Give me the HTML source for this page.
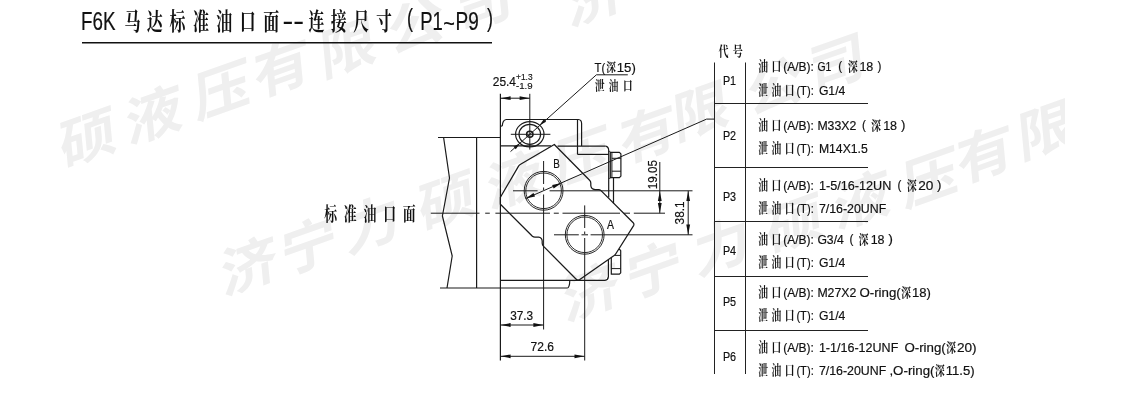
<!DOCTYPE html>
<html lang="zh-CN"><head><meta charset="utf-8"><title>F6K 马达标准油口面--连接尺寸 ( P1~P9 )</title>
<style>
html,body{margin:0;padding:0;background:#fff;}
body{width:1121px;height:414px;overflow:hidden;font-family:"Liberation Sans","Noto Sans CJK SC",sans-serif;}
svg{display:block;will-change:transform;transform:translateZ(0);}
text{white-space:pre;}
</style></head><body>
<svg width="1121" height="414" viewBox="0 0 1121 414">
<clipPath id="cw"><rect x="56" y="0" width="1009" height="414"/></clipPath><g id="wm" clip-path="url(#cw)">
<text transform="translate(88,138) rotate(-19.5) skewX(-14) scale(1.12,1)" x="0" y="19.1" text-anchor="middle" font-family='"Liberation Sans", "Noto Sans CJK SC", sans-serif' font-size="53" font-weight="700" fill="#efefef">硕</text>
<text transform="translate(154,115) rotate(-19.5) skewX(-14) scale(1.12,1)" x="0" y="19.1" text-anchor="middle" font-family='"Liberation Sans", "Noto Sans CJK SC", sans-serif' font-size="53" font-weight="700" fill="#efefef">液</text>
<text transform="translate(222,90) rotate(-19.5) skewX(-14) scale(1.12,1)" x="0" y="19.1" text-anchor="middle" font-family='"Liberation Sans", "Noto Sans CJK SC", sans-serif' font-size="53" font-weight="700" fill="#efefef">压</text>
<text transform="translate(282,68) rotate(-19.5) skewX(-14) scale(1.12,1)" x="0" y="19.1" text-anchor="middle" font-family='"Liberation Sans", "Noto Sans CJK SC", sans-serif' font-size="53" font-weight="700" fill="#efefef">有</text>
<text transform="translate(348,48) rotate(-19.5) skewX(-14) scale(1.12,1)" x="0" y="19.1" text-anchor="middle" font-family='"Liberation Sans", "Noto Sans CJK SC", sans-serif' font-size="53" font-weight="700" fill="#efefef">限</text>
<text transform="translate(416,25) rotate(-19.5) skewX(-14) scale(1.12,1)" x="0" y="19.1" text-anchor="middle" font-family='"Liberation Sans", "Noto Sans CJK SC", sans-serif' font-size="53" font-weight="700" fill="#efefef">公</text>
<text transform="translate(484,3) rotate(-19.5) skewX(-14) scale(1.12,1)" x="0" y="19.1" text-anchor="middle" font-family='"Liberation Sans", "Noto Sans CJK SC", sans-serif' font-size="53" font-weight="700" fill="#efefef">司</text>
<text transform="translate(249,266) rotate(-19.5) skewX(-14) scale(1.12,1)" x="0" y="19.1" text-anchor="middle" font-family='"Liberation Sans", "Noto Sans CJK SC", sans-serif' font-size="53" font-weight="700" fill="#efefef">济</text>
<text transform="translate(309,246) rotate(-19.5) skewX(-14) scale(1.12,1)" x="0" y="19.1" text-anchor="middle" font-family='"Liberation Sans", "Noto Sans CJK SC", sans-serif' font-size="53" font-weight="700" fill="#efefef">宁</text>
<text transform="translate(372,224) rotate(-19.5) skewX(-14) scale(1.12,1)" x="0" y="19.1" text-anchor="middle" font-family='"Liberation Sans", "Noto Sans CJK SC", sans-serif' font-size="53" font-weight="700" fill="#efefef">力</text>
<text transform="translate(447,201) rotate(-19.5) skewX(-14) scale(1.12,1)" x="0" y="19.1" text-anchor="middle" font-family='"Liberation Sans", "Noto Sans CJK SC", sans-serif' font-size="53" font-weight="700" fill="#efefef">硕</text>
<text transform="translate(515,180) rotate(-19.5) skewX(-14) scale(1.12,1)" x="0" y="19.1" text-anchor="middle" font-family='"Liberation Sans", "Noto Sans CJK SC", sans-serif' font-size="53" font-weight="700" fill="#efefef">液</text>
<text transform="translate(582,157) rotate(-19.5) skewX(-14) scale(1.12,1)" x="0" y="19.1" text-anchor="middle" font-family='"Liberation Sans", "Noto Sans CJK SC", sans-serif' font-size="53" font-weight="700" fill="#efefef">压</text>
<text transform="translate(648,134) rotate(-19.5) skewX(-14) scale(1.12,1)" x="0" y="19.1" text-anchor="middle" font-family='"Liberation Sans", "Noto Sans CJK SC", sans-serif' font-size="53" font-weight="700" fill="#efefef">有</text>
<text transform="translate(701,111) rotate(-19.5) skewX(-14) scale(1.12,1)" x="0" y="19.1" text-anchor="middle" font-family='"Liberation Sans", "Noto Sans CJK SC", sans-serif' font-size="53" font-weight="700" fill="#efefef">限</text>
<text transform="translate(775,86) rotate(-19.5) skewX(-14) scale(1.12,1)" x="0" y="19.1" text-anchor="middle" font-family='"Liberation Sans", "Noto Sans CJK SC", sans-serif' font-size="53" font-weight="700" fill="#efefef">公</text>
<text transform="translate(837,63) rotate(-19.5) skewX(-14) scale(1.12,1)" x="0" y="19.1" text-anchor="middle" font-family='"Liberation Sans", "Noto Sans CJK SC", sans-serif' font-size="53" font-weight="700" fill="#efefef">司</text>
<text transform="translate(591,292) rotate(-19.5) skewX(-14) scale(1.12,1)" x="0" y="19.1" text-anchor="middle" font-family='"Liberation Sans", "Noto Sans CJK SC", sans-serif' font-size="53" font-weight="700" fill="#efefef">济</text>
<text transform="translate(654,270) rotate(-19.5) skewX(-14) scale(1.12,1)" x="0" y="19.1" text-anchor="middle" font-family='"Liberation Sans", "Noto Sans CJK SC", sans-serif' font-size="53" font-weight="700" fill="#efefef">宁</text>
<text transform="translate(722,246) rotate(-19.5) skewX(-14) scale(1.12,1)" x="0" y="19.1" text-anchor="middle" font-family='"Liberation Sans", "Noto Sans CJK SC", sans-serif' font-size="53" font-weight="700" fill="#efefef">力</text>
<text transform="translate(795,224) rotate(-19.5) skewX(-14) scale(1.12,1)" x="0" y="19.1" text-anchor="middle" font-family='"Liberation Sans", "Noto Sans CJK SC", sans-serif' font-size="53" font-weight="700" fill="#efefef">硕</text>
<text transform="translate(862,200) rotate(-19.5) skewX(-14) scale(1.12,1)" x="0" y="19.1" text-anchor="middle" font-family='"Liberation Sans", "Noto Sans CJK SC", sans-serif' font-size="53" font-weight="700" fill="#efefef">液</text>
<text transform="translate(930,178) rotate(-19.5) skewX(-14) scale(1.12,1)" x="0" y="19.1" text-anchor="middle" font-family='"Liberation Sans", "Noto Sans CJK SC", sans-serif' font-size="53" font-weight="700" fill="#efefef">压</text>
<text transform="translate(985,154) rotate(-19.5) skewX(-14) scale(1.12,1)" x="0" y="19.1" text-anchor="middle" font-family='"Liberation Sans", "Noto Sans CJK SC", sans-serif' font-size="53" font-weight="700" fill="#efefef">有</text>
<text transform="translate(1046,130) rotate(-19.5) skewX(-14) scale(1.12,1)" x="0" y="19.1" text-anchor="middle" font-family='"Liberation Sans", "Noto Sans CJK SC", sans-serif' font-size="53" font-weight="700" fill="#efefef">限</text>
<text transform="translate(595,-3) rotate(-19.5) skewX(-14) scale(1.12,1)" x="0" y="19.1" text-anchor="middle" font-family='"Liberation Sans", "Noto Sans CJK SC", sans-serif' font-size="53" font-weight="700" fill="#efefef">济</text>
</g>
<text x="81.0" y="29.8" font-family='"Liberation Sans", "Noto Sans CJK SC", sans-serif' font-size="25" fill="#111" stroke="#111" stroke-width="0.2" font-weight="normal" text-anchor="start" textLength="34.5" lengthAdjust="spacingAndGlyphs" xml:space="preserve">F6K</text>
<text x="195.00 227.50 260.88 295.59 329.71 364.26 398.97" y="30.3" transform="scale(0.68,1)" text-anchor="middle" font-family='"Liberation Serif", "Noto Serif CJK SC", serif' font-size="23.5" font-weight="700" fill="#111" stroke="#111" stroke-width="0">马达标准油口面</text>
<text x="282.4" y="29.8" font-family='"Liberation Sans", "Noto Sans CJK SC", sans-serif' font-size="25" fill="#111" stroke="#111" stroke-width="0.2" font-weight="normal" text-anchor="start" textLength="21.6" lengthAdjust="spacingAndGlyphs" xml:space="preserve">--</text>
<text x="465.44 498.24 531.32 564.56" y="30.3" transform="scale(0.68,1)" text-anchor="middle" font-family='"Liberation Serif", "Noto Serif CJK SC", serif' font-size="23.5" font-weight="700" fill="#111" stroke="#111" stroke-width="0">连接尺寸</text>
<text x="407.0" y="27.3" font-family='"Liberation Sans", "Noto Sans CJK SC", sans-serif' font-size="25" fill="#111" stroke="#111" stroke-width="0.2" font-weight="normal" text-anchor="start" textLength="6" lengthAdjust="spacingAndGlyphs" xml:space="preserve">(</text>
<text x="420.3" y="29.8" font-family='"Liberation Sans", "Noto Sans CJK SC", sans-serif' font-size="25" fill="#111" stroke="#111" stroke-width="0.2" font-weight="normal" text-anchor="start" textLength="22.6" lengthAdjust="spacingAndGlyphs" xml:space="preserve">P1</text>
<text x="443.3" y="32.2" font-family='"Liberation Sans", "Noto Sans CJK SC", sans-serif' font-size="25" fill="#111" stroke="#111" stroke-width="0.2" font-weight="normal" text-anchor="start" textLength="11.6" lengthAdjust="spacingAndGlyphs" xml:space="preserve">~</text>
<text x="455.6" y="29.8" font-family='"Liberation Sans", "Noto Sans CJK SC", sans-serif' font-size="25" fill="#111" stroke="#111" stroke-width="0.2" font-weight="normal" text-anchor="start" textLength="23.2" lengthAdjust="spacingAndGlyphs" xml:space="preserve">P9</text>
<text x="487.0" y="27.3" font-family='"Liberation Sans", "Noto Sans CJK SC", sans-serif' font-size="25" fill="#111" stroke="#111" stroke-width="0.2" font-weight="normal" text-anchor="start" textLength="6" lengthAdjust="spacingAndGlyphs" xml:space="preserve">)</text>
<line x1="82" y1="42.8" x2="492" y2="42.8" stroke="#111" stroke-width="1.5"/>
<line x1="438" y1="137.5" x2="500.2" y2="137.5" stroke="#1a1a1a" stroke-width="1.2"/>
<line x1="440" y1="288" x2="567.5" y2="288" stroke="#1a1a1a" stroke-width="1.2"/>
<path d="M567.5,288 Q569.6,287.6 569.8,280.6" stroke="#1a1a1a" stroke-width="1.2" fill="none" stroke-linejoin="round" stroke-linecap="butt"/>
<line x1="476.6" y1="137.5" x2="476.6" y2="288" stroke="#1a1a1a" stroke-width="1.2"/>
<path d="M443.6,137.5 L449.5,178 L442.4,216 L452.2,256 L447,288" stroke="#1a1a1a" stroke-width="1.2" fill="none" stroke-linejoin="round" stroke-linecap="butt"/>
<line x1="500.4" y1="93.8" x2="500.4" y2="360.5" stroke="#1a1a1a" stroke-width="1.2"/>
<path d="M500.4,126.4 L502.3,125.8 Q502.6,120.2 506.2,119.5 L578.4,119.5 Q581.6,119.8 581.6,123.5 L581.6,146" stroke="#1a1a1a" stroke-width="1.2" fill="none" stroke-linejoin="round" stroke-linecap="butt"/>
<line x1="577.5" y1="119.5" x2="577.5" y2="154.4" stroke="#1a1a1a" stroke-width="1.2"/>
<line x1="500.4" y1="145.8" x2="551" y2="145.8" stroke="#1a1a1a" stroke-width="1.2"/>
<line x1="557.5" y1="146.2" x2="605.6" y2="146.2" stroke="#1a1a1a" stroke-width="1.2"/>
<path d="M605.6,146.2 Q608.6,146.8 608.7,150.5 L608.7,197.5" stroke="#1a1a1a" stroke-width="1.2" fill="none" stroke-linejoin="round" stroke-linecap="butt"/>
<line x1="577.5" y1="154.4" x2="608.7" y2="154.4" stroke="#1a1a1a" stroke-width="1.2"/>
<ellipse cx="529.8" cy="134.3" rx="14.2" ry="12.6" stroke="#1a1a1a" stroke-width="1.2" fill="none"/>
<ellipse cx="529.8" cy="134.3" rx="10.8" ry="10.0" stroke="#1a1a1a" stroke-width="1.2" fill="none"/>
<ellipse cx="529.8" cy="134.3" rx="3.2" ry="3.0" stroke="#1a1a1a" stroke-width="1.5" fill="none"/>
<line x1="510.8" y1="134.3" x2="550.4" y2="134.3" stroke="#1a1a1a" stroke-width="1.0"/>
<line x1="529.8" y1="93.8" x2="529.8" y2="149.6" stroke="#1a1a1a" stroke-width="1.0"/>
<line x1="510.5" y1="151.6" x2="596.4" y2="74.8" stroke="#1a1a1a" stroke-width="1.0"/>
<line x1="596.4" y1="74.8" x2="627.8" y2="74.8" stroke="#1a1a1a" stroke-width="1.0"/>
<polygon points="539.30,125.60 546.10,121.81 543.84,119.27" fill="#111"/>
<polygon points="520.30,143.00 513.50,146.79 515.76,149.33" fill="#111"/>
<line x1="500.4" y1="98.2" x2="529.8" y2="98.2" stroke="#1a1a1a" stroke-width="1.0"/>
<polygon points="500.60,98.20 510.60,100.10 510.60,96.30" fill="#111"/>
<polygon points="529.60,98.20 519.60,96.30 519.60,100.10" fill="#111"/>
<path d="M554.3,144.5 L520.6,164.2 Q519.2,165 518.4,166.4 L500.4,197.2 L500.4,204.2 L532.4,236.2 Q533.4,237.1 535,237.1 L538.6,237.1 Q542,237.6 542.2,241 L542.2,243.2 Q542.3,245 543.6,246.4 L576.2,279.2 Q577.8,280.8 579.8,279.6 L613.8,255.8 Q615.4,254.6 616.3,253 L633.6,225.6 Q634.4,224 633.2,222.8 L601,190.6 Q600,189.6 598.4,189.6 L595,189.6 Q591,189 590.8,185.5 L590.8,183 Q590.8,181.4 589.6,180.2 Z" stroke="#1a1a1a" stroke-width="1.25" fill="none" stroke-linejoin="round" stroke-linecap="butt"/>
<ellipse cx="543.6" cy="190.8" rx="19.4" ry="19.4" stroke="#1a1a1a" stroke-width="0.95" fill="none"/>
<ellipse cx="543.6" cy="190.8" rx="17.8" ry="17.8" stroke="#1a1a1a" stroke-width="0.9" fill="none"/>
<ellipse cx="584.7" cy="234.8" rx="19.4" ry="19.4" stroke="#1a1a1a" stroke-width="0.95" fill="none"/>
<ellipse cx="584.7" cy="234.8" rx="17.8" ry="17.8" stroke="#1a1a1a" stroke-width="0.9" fill="none"/>
<line x1="430.8" y1="213.2" x2="479.5" y2="213.2" stroke="#1a1a1a" stroke-width="1.0"/>
<line x1="485.2" y1="213.2" x2="489.8" y2="213.2" stroke="#1a1a1a" stroke-width="1.0"/>
<line x1="495.4" y1="213.2" x2="550" y2="213.2" stroke="#1a1a1a" stroke-width="1.0"/>
<line x1="553.8" y1="213.2" x2="558.8" y2="213.2" stroke="#1a1a1a" stroke-width="1.0"/>
<line x1="562.5" y1="213.2" x2="620" y2="213.2" stroke="#1a1a1a" stroke-width="1.0"/>
<line x1="623.8" y1="213.2" x2="630" y2="213.2" stroke="#1a1a1a" stroke-width="1.0"/>
<line x1="633.8" y1="213.2" x2="665" y2="213.2" stroke="#1a1a1a" stroke-width="1.0"/>
<line x1="513" y1="190.8" x2="537.6" y2="190.8" stroke="#1a1a1a" stroke-width="1.0"/>
<line x1="549.6" y1="190.8" x2="692.5" y2="190.8" stroke="#1a1a1a" stroke-width="1.0"/>
<line x1="554" y1="234.8" x2="578.8" y2="234.8" stroke="#1a1a1a" stroke-width="1.0"/>
<line x1="581.5" y1="234.8" x2="588" y2="234.8" stroke="#1a1a1a" stroke-width="1.0"/>
<line x1="590.6" y1="234.8" x2="692.5" y2="234.8" stroke="#1a1a1a" stroke-width="1.0"/>
<line x1="543.6" y1="161" x2="543.6" y2="184" stroke="#1a1a1a" stroke-width="1.0"/>
<line x1="543.6" y1="187.5" x2="543.6" y2="190" stroke="#1a1a1a" stroke-width="1.0"/>
<line x1="543.6" y1="194.5" x2="543.6" y2="329.5" stroke="#1a1a1a" stroke-width="1.0"/>
<line x1="584.7" y1="205.4" x2="584.7" y2="228" stroke="#1a1a1a" stroke-width="1.0"/>
<line x1="584.7" y1="231.5" x2="584.7" y2="234" stroke="#1a1a1a" stroke-width="1.0"/>
<line x1="584.7" y1="238" x2="584.7" y2="360.5" stroke="#1a1a1a" stroke-width="1.0"/>
<path d="M525.6,198.6 L706.6,119.1 L714.5,119.1" stroke="#1a1a1a" stroke-width="1.0" fill="none" stroke-linejoin="round" stroke-linecap="butt"/>
<polygon points="525.60,198.60 535.07,196.54 533.54,193.05" fill="#111"/>
<polygon points="561.60,182.90 552.13,184.96 553.66,188.45" fill="#111"/>
<path d="M610.3,152.3 L619.4,152.3 L620.9,153.9 L620.9,176.1 L619.4,177.7 L610.3,177.7 Z" stroke="#1a1a1a" stroke-width="1.2" fill="none" stroke-linejoin="round" stroke-linecap="butt"/>
<line x1="611.9" y1="152.3" x2="611.9" y2="177.7" stroke="#1a1a1a" stroke-width="1.0"/>
<line x1="611.9" y1="158.3" x2="620.9" y2="158.3" stroke="#1a1a1a" stroke-width="1.0"/>
<line x1="611.9" y1="171.2" x2="620.9" y2="171.2" stroke="#1a1a1a" stroke-width="1.0"/>
<line x1="608.7" y1="151.4" x2="610.3" y2="151.4" stroke="#1a1a1a" stroke-width="0.8"/>
<line x1="608.7" y1="178.4" x2="610.3" y2="178.4" stroke="#1a1a1a" stroke-width="0.8"/>
<line x1="613.5" y1="177.7" x2="613.5" y2="203.4" stroke="#1a1a1a" stroke-width="1.2"/>
<clipPath id="cb"><polygon points="634.4,224 616.6,253.2 614,256 598,267.2 598,292 640,292 640,224"/></clipPath><g clip-path="url(#cb)">
<path d="M611.3,249 L619.2,249 L620.7,250.6 L620.7,272.8 L619.4,274.2 L611.3,274.2 Z" stroke="#1a1a1a" stroke-width="1.2" fill="none" stroke-linejoin="round" stroke-linecap="butt"/>
<line x1="611.3" y1="255.4" x2="620.7" y2="255.4" stroke="#1a1a1a" stroke-width="1.0"/>
<line x1="611.3" y1="268.6" x2="620.7" y2="268.6" stroke="#1a1a1a" stroke-width="1.0"/>
<path d="M608.4,250 L608.4,276.6 Q608.2,279.8 605,280.3" stroke="#1a1a1a" stroke-width="1.2" fill="none" stroke-linejoin="round" stroke-linecap="butt"/>
</g>
<line x1="500.4" y1="280.3" x2="605" y2="280.3" stroke="#1a1a1a" stroke-width="1.2"/>
<line x1="500.4" y1="325" x2="543.6" y2="325" stroke="#1a1a1a" stroke-width="1.0"/>
<polygon points="500.60,325.00 510.60,326.90 510.60,323.10" fill="#111"/>
<polygon points="543.40,325.00 533.40,323.10 533.40,326.90" fill="#111"/>
<line x1="500.4" y1="356.3" x2="584.7" y2="356.3" stroke="#1a1a1a" stroke-width="1.0"/>
<polygon points="500.60,356.30 510.60,358.20 510.60,354.40" fill="#111"/>
<polygon points="584.50,356.30 574.50,354.40 574.50,358.20" fill="#111"/>
<line x1="659.8" y1="162" x2="659.8" y2="213.2" stroke="#1a1a1a" stroke-width="1.0"/>
<polygon points="659.80,191.00 657.90,201.00 661.70,201.00" fill="#111"/>
<polygon points="659.80,213.00 661.70,203.00 657.90,203.00" fill="#111"/>
<line x1="688.2" y1="190.8" x2="688.2" y2="234.8" stroke="#1a1a1a" stroke-width="1.0"/>
<polygon points="688.20,191.00 686.30,201.00 690.10,201.00" fill="#111"/>
<polygon points="688.20,234.60 690.10,224.60 686.30,224.60" fill="#111"/>
<text x="492.8" y="86.2" font-family='"Liberation Sans", "Noto Sans CJK SC", sans-serif' font-size="13.6" fill="#111" stroke="#111" stroke-width="0.2" font-weight="normal" text-anchor="start" textLength="23.2" lengthAdjust="spacingAndGlyphs" xml:space="preserve">25.4</text>
<text x="516.0" y="79.5" font-family='"Liberation Sans", "Noto Sans CJK SC", sans-serif' font-size="9.0" fill="#111" stroke="#111" stroke-width="0.15" font-weight="normal" text-anchor="start" textLength="16.6" lengthAdjust="spacingAndGlyphs" xml:space="preserve">+1.3</text>
<text x="516.0" y="88.9" font-family='"Liberation Sans", "Noto Sans CJK SC", sans-serif' font-size="9.0" fill="#111" stroke="#111" stroke-width="0.15" font-weight="normal" text-anchor="start" textLength="16.6" lengthAdjust="spacingAndGlyphs" xml:space="preserve">-1.9</text>
<text x="594.6" y="71.6" font-family='"Liberation Sans", "Noto Sans CJK SC", sans-serif' font-size="13.4" fill="#111" stroke="#111" stroke-width="0.2" font-weight="normal" text-anchor="start" textLength="10.6" lengthAdjust="spacingAndGlyphs" xml:space="preserve">T(</text>
<text x="783.46" y="72.2" transform="scale(0.78,1)" text-anchor="middle" font-family='"Liberation Serif", "Noto Serif CJK SC", serif' font-size="12.5" font-weight="700" fill="#111" stroke="#111" stroke-width="0">深</text>
<text x="616.8" y="71.6" font-family='"Liberation Sans", "Noto Sans CJK SC", sans-serif' font-size="13.4" fill="#111" stroke="#111" stroke-width="0.2" font-weight="normal" text-anchor="start" textLength="19" lengthAdjust="spacingAndGlyphs" xml:space="preserve">15)</text>
<text x="810.68 829.19 848.38" y="90.4" transform="scale(0.74,1)" text-anchor="middle" font-family='"Liberation Serif", "Noto Serif CJK SC", serif' font-size="13.0" font-weight="700" fill="#111" stroke="#111" stroke-width="0">泄油口</text>
<text x="553.2" y="167.8" font-family='"Liberation Sans", "Noto Sans CJK SC", sans-serif' font-size="13.2" fill="#111" stroke="#111" stroke-width="0.2" font-weight="normal" text-anchor="start" textLength="6.6" lengthAdjust="spacingAndGlyphs" xml:space="preserve">B</text>
<text x="607" y="229.4" font-family='"Liberation Sans", "Noto Sans CJK SC", sans-serif' font-size="13.2" fill="#111" stroke="#111" stroke-width="0.2" font-weight="normal" text-anchor="start" textLength="7" lengthAdjust="spacingAndGlyphs" xml:space="preserve">A</text>
<text x="510.2" y="320.2" font-family='"Liberation Sans", "Noto Sans CJK SC", sans-serif' font-size="13.6" fill="#111" stroke="#111" stroke-width="0.2" font-weight="normal" text-anchor="start" textLength="23" lengthAdjust="spacingAndGlyphs" xml:space="preserve">37.3</text>
<text x="530.6" y="351.4" font-family='"Liberation Sans", "Noto Sans CJK SC", sans-serif' font-size="13.6" fill="#111" stroke="#111" stroke-width="0.2" font-weight="normal" text-anchor="start" textLength="23.4" lengthAdjust="spacingAndGlyphs" xml:space="preserve">72.6</text>
<text x="657.3" y="189.2" font-family='"Liberation Sans", "Noto Sans CJK SC", sans-serif' font-size="13.6" fill="#111" stroke="#111" stroke-width="0.2" font-weight="normal" text-anchor="start" textLength="29.2" lengthAdjust="spacingAndGlyphs" transform="rotate(-90 657.3 189.2)" xml:space="preserve">19.05</text>
<text x="684.2" y="224.4" font-family='"Liberation Sans", "Noto Sans CJK SC", sans-serif' font-size="13.6" fill="#111" stroke="#111" stroke-width="0.2" font-weight="normal" text-anchor="start" textLength="23" lengthAdjust="spacingAndGlyphs" transform="rotate(-90 684.2 224.4)" xml:space="preserve">38.1</text>
<text x="486.18 515.15 544.12 573.09 601.91" y="221.0" transform="scale(0.68,1)" text-anchor="middle" font-family='"Liberation Serif", "Noto Serif CJK SC", serif' font-size="19" font-weight="700" fill="#111" stroke="#111" stroke-width="0">标准油口面</text>
<text x="977.70 997.16" y="56.0" transform="scale(0.74,1)" text-anchor="middle" font-family='"Liberation Serif", "Noto Serif CJK SC", serif' font-size="13.6" font-weight="700" fill="#111" stroke="#111" stroke-width="0">代号</text>
<line x1="714.5" y1="62.5" x2="714.5" y2="374" stroke="#222" stroke-width="1.0"/>
<line x1="745.5" y1="62.5" x2="745.5" y2="374" stroke="#222" stroke-width="1.0"/>
<line x1="714.5" y1="103.5" x2="868" y2="103.5" stroke="#222" stroke-width="1.0"/>
<line x1="714.5" y1="167.5" x2="868" y2="167.5" stroke="#222" stroke-width="1.0"/>
<line x1="714.5" y1="221.5" x2="868" y2="221.5" stroke="#222" stroke-width="1.0"/>
<line x1="714.5" y1="276.5" x2="868" y2="276.5" stroke="#222" stroke-width="1.0"/>
<line x1="714.5" y1="330.5" x2="868" y2="330.5" stroke="#222" stroke-width="1.0"/>
<text x="722.9" y="84.6" font-family='"Liberation Sans", "Noto Sans CJK SC", sans-serif' font-size="13.6" fill="#111" stroke="#111" stroke-width="0.2" font-weight="normal" text-anchor="start" textLength="13.2" lengthAdjust="spacingAndGlyphs" xml:space="preserve">P1</text>
<text x="722.9" y="139.5" font-family='"Liberation Sans", "Noto Sans CJK SC", sans-serif' font-size="13.6" fill="#111" stroke="#111" stroke-width="0.2" font-weight="normal" text-anchor="start" textLength="13.2" lengthAdjust="spacingAndGlyphs" xml:space="preserve">P2</text>
<text x="722.9" y="200.5" font-family='"Liberation Sans", "Noto Sans CJK SC", sans-serif' font-size="13.6" fill="#111" stroke="#111" stroke-width="0.2" font-weight="normal" text-anchor="start" textLength="13.2" lengthAdjust="spacingAndGlyphs" xml:space="preserve">P3</text>
<text x="722.9" y="255" font-family='"Liberation Sans", "Noto Sans CJK SC", sans-serif' font-size="13.6" fill="#111" stroke="#111" stroke-width="0.2" font-weight="normal" text-anchor="start" textLength="13.2" lengthAdjust="spacingAndGlyphs" xml:space="preserve">P4</text>
<text x="722.9" y="306.3" font-family='"Liberation Sans", "Noto Sans CJK SC", sans-serif' font-size="13.6" fill="#111" stroke="#111" stroke-width="0.2" font-weight="normal" text-anchor="start" textLength="13.2" lengthAdjust="spacingAndGlyphs" xml:space="preserve">P5</text>
<text x="722.9" y="361" font-family='"Liberation Sans", "Noto Sans CJK SC", sans-serif' font-size="13.6" fill="#111" stroke="#111" stroke-width="0.2" font-weight="normal" text-anchor="start" textLength="13.2" lengthAdjust="spacingAndGlyphs" xml:space="preserve">P6</text>
<text x="1031.22 1049.19" y="71.5" transform="scale(0.74,1)" text-anchor="middle" font-family='"Liberation Serif", "Noto Serif CJK SC", serif' font-size="13.2" font-weight="700" fill="#111" stroke="#111" stroke-width="0">油口</text>
<text x="783.15" y="71.4" font-family='"Liberation Sans", "Noto Sans CJK SC", sans-serif' font-size="13.6" fill="#111" stroke="#111" stroke-width="0.2" font-weight="normal" text-anchor="start" textLength="30.65" lengthAdjust="spacingAndGlyphs" xml:space="preserve">(A/B):</text>
<text x="817.4" y="71.4" font-family='"Liberation Sans", "Noto Sans CJK SC", sans-serif' font-size="13.6" fill="#111" stroke="#111" stroke-width="0.2" font-weight="normal" text-anchor="start" textLength="13.9" lengthAdjust="spacingAndGlyphs" xml:space="preserve">G1</text>
<text x="838.15" y="70.2" font-family='"Liberation Sans", "Noto Sans CJK SC", sans-serif' font-size="13.6" fill="#111" stroke="#111" stroke-width="0.2" font-weight="normal" text-anchor="start" textLength="3.9" lengthAdjust="spacingAndGlyphs" xml:space="preserve">(</text>
<text x="1107.79" y="71.5" transform="scale(0.77,1)" text-anchor="middle" font-family='"Liberation Serif", "Noto Serif CJK SC", serif' font-size="12.7" font-weight="700" fill="#111" stroke="#111" stroke-width="0">深</text>
<text x="859.4" y="71.4" font-family='"Liberation Sans", "Noto Sans CJK SC", sans-serif' font-size="13.6" fill="#111" stroke="#111" stroke-width="0.2" font-weight="normal" text-anchor="start" textLength="13.9" lengthAdjust="spacingAndGlyphs" xml:space="preserve">18</text>
<text x="877.4" y="70.2" font-family='"Liberation Sans", "Noto Sans CJK SC", sans-serif' font-size="13.6" fill="#111" stroke="#111" stroke-width="0.2" font-weight="normal" text-anchor="start" textLength="3.9" lengthAdjust="spacingAndGlyphs" xml:space="preserve">)</text>
<text x="1031.22 1049.19 1067.03" y="94.6" transform="scale(0.74,1)" text-anchor="middle" font-family='"Liberation Serif", "Noto Serif CJK SC", serif' font-size="13.2" font-weight="700" fill="#111" stroke="#111" stroke-width="0">泄油口</text>
<text x="796.4" y="94.5" font-family='"Liberation Sans", "Noto Sans CJK SC", sans-serif' font-size="13.6" fill="#111" stroke="#111" stroke-width="0.2" font-weight="normal" text-anchor="start" textLength="17.4" lengthAdjust="spacingAndGlyphs" xml:space="preserve">(T):</text>
<text x="818.9" y="94.5" font-family='"Liberation Sans", "Noto Sans CJK SC", sans-serif' font-size="13.6" fill="#111" stroke="#111" stroke-width="0.2" font-weight="normal" text-anchor="start" textLength="26.4" lengthAdjust="spacingAndGlyphs" xml:space="preserve">G1/4</text>
<text x="1031.22 1049.19" y="130.1" transform="scale(0.74,1)" text-anchor="middle" font-family='"Liberation Serif", "Noto Serif CJK SC", serif' font-size="13.2" font-weight="700" fill="#111" stroke="#111" stroke-width="0">油口</text>
<text x="783.15" y="130.0" font-family='"Liberation Sans", "Noto Sans CJK SC", sans-serif' font-size="13.6" fill="#111" stroke="#111" stroke-width="0.2" font-weight="normal" text-anchor="start" textLength="30.65" lengthAdjust="spacingAndGlyphs" xml:space="preserve">(A/B):</text>
<text x="817.4" y="130.0" font-family='"Liberation Sans", "Noto Sans CJK SC", sans-serif' font-size="13.6" fill="#111" stroke="#111" stroke-width="0.2" font-weight="normal" text-anchor="start" textLength="38.9" lengthAdjust="spacingAndGlyphs" xml:space="preserve">M33X2</text>
<text x="861.9" y="128.8" font-family='"Liberation Sans", "Noto Sans CJK SC", sans-serif' font-size="13.6" fill="#111" stroke="#111" stroke-width="0.2" font-weight="normal" text-anchor="start" textLength="3.9" lengthAdjust="spacingAndGlyphs" xml:space="preserve">(</text>
<text x="1137.99" y="130.1" transform="scale(0.77,1)" text-anchor="middle" font-family='"Liberation Serif", "Noto Serif CJK SC", serif' font-size="12.7" font-weight="700" fill="#111" stroke="#111" stroke-width="0">深</text>
<text x="883.15" y="130.0" font-family='"Liberation Sans", "Noto Sans CJK SC", sans-serif' font-size="13.6" fill="#111" stroke="#111" stroke-width="0.2" font-weight="normal" text-anchor="start" textLength="13.9" lengthAdjust="spacingAndGlyphs" xml:space="preserve">18</text>
<text x="900.9" y="128.8" font-family='"Liberation Sans", "Noto Sans CJK SC", sans-serif' font-size="13.6" fill="#111" stroke="#111" stroke-width="0.2" font-weight="normal" text-anchor="start" textLength="4.4" lengthAdjust="spacingAndGlyphs" xml:space="preserve">)</text>
<text x="1031.22 1049.19 1067.03" y="153.1" transform="scale(0.74,1)" text-anchor="middle" font-family='"Liberation Serif", "Noto Serif CJK SC", serif' font-size="13.2" font-weight="700" fill="#111" stroke="#111" stroke-width="0">泄油口</text>
<text x="796.4" y="153.0" font-family='"Liberation Sans", "Noto Sans CJK SC", sans-serif' font-size="13.6" fill="#111" stroke="#111" stroke-width="0.2" font-weight="normal" text-anchor="start" textLength="17.4" lengthAdjust="spacingAndGlyphs" xml:space="preserve">(T):</text>
<text x="818.9" y="153.0" font-family='"Liberation Sans", "Noto Sans CJK SC", sans-serif' font-size="13.6" fill="#111" stroke="#111" stroke-width="0.2" font-weight="normal" text-anchor="start" textLength="48.9" lengthAdjust="spacingAndGlyphs" xml:space="preserve">M14X1.5</text>
<text x="1031.22 1049.19" y="190.1" transform="scale(0.74,1)" text-anchor="middle" font-family='"Liberation Serif", "Noto Serif CJK SC", serif' font-size="13.2" font-weight="700" fill="#111" stroke="#111" stroke-width="0">油口</text>
<text x="783.15" y="190.0" font-family='"Liberation Sans", "Noto Sans CJK SC", sans-serif' font-size="13.6" fill="#111" stroke="#111" stroke-width="0.2" font-weight="normal" text-anchor="start" textLength="30.65" lengthAdjust="spacingAndGlyphs" xml:space="preserve">(A/B):</text>
<text x="818.9" y="190.0" font-family='"Liberation Sans", "Noto Sans CJK SC", sans-serif' font-size="13.6" fill="#111" stroke="#111" stroke-width="0.2" font-weight="normal" text-anchor="start" textLength="72.4" lengthAdjust="spacingAndGlyphs" xml:space="preserve">1-5/16-12UN</text>
<text x="897.4" y="188.8" font-family='"Liberation Sans", "Noto Sans CJK SC", sans-serif' font-size="13.6" fill="#111" stroke="#111" stroke-width="0.2" font-weight="normal" text-anchor="start" textLength="3.9" lengthAdjust="spacingAndGlyphs" xml:space="preserve">(</text>
<text x="1184.42" y="190.1" transform="scale(0.77,1)" text-anchor="middle" font-family='"Liberation Serif", "Noto Serif CJK SC", serif' font-size="12.7" font-weight="700" fill="#111" stroke="#111" stroke-width="0">深</text>
<text x="918.15" y="190.0" font-family='"Liberation Sans", "Noto Sans CJK SC", sans-serif' font-size="13.6" fill="#111" stroke="#111" stroke-width="0.2" font-weight="normal" text-anchor="start" textLength="15.15" lengthAdjust="spacingAndGlyphs" xml:space="preserve">20</text>
<text x="936.9" y="188.8" font-family='"Liberation Sans", "Noto Sans CJK SC", sans-serif' font-size="13.6" fill="#111" stroke="#111" stroke-width="0.2" font-weight="normal" text-anchor="start" textLength="4.4" lengthAdjust="spacingAndGlyphs" xml:space="preserve">)</text>
<text x="1031.22 1049.19 1067.03" y="213.1" transform="scale(0.74,1)" text-anchor="middle" font-family='"Liberation Serif", "Noto Serif CJK SC", serif' font-size="13.2" font-weight="700" fill="#111" stroke="#111" stroke-width="0">泄油口</text>
<text x="796.4" y="213.0" font-family='"Liberation Sans", "Noto Sans CJK SC", sans-serif' font-size="13.6" fill="#111" stroke="#111" stroke-width="0.2" font-weight="normal" text-anchor="start" textLength="17.4" lengthAdjust="spacingAndGlyphs" xml:space="preserve">(T):</text>
<text x="818.9" y="213.0" font-family='"Liberation Sans", "Noto Sans CJK SC", sans-serif' font-size="13.6" fill="#111" stroke="#111" stroke-width="0.2" font-weight="normal" text-anchor="start" textLength="67.4" lengthAdjust="spacingAndGlyphs" xml:space="preserve">7/16-20UNF</text>
<text x="1031.22 1049.19" y="244.29999999999998" transform="scale(0.74,1)" text-anchor="middle" font-family='"Liberation Serif", "Noto Serif CJK SC", serif' font-size="13.2" font-weight="700" fill="#111" stroke="#111" stroke-width="0">油口</text>
<text x="783.15" y="244.2" font-family='"Liberation Sans", "Noto Sans CJK SC", sans-serif' font-size="13.6" fill="#111" stroke="#111" stroke-width="0.2" font-weight="normal" text-anchor="start" textLength="30.65" lengthAdjust="spacingAndGlyphs" xml:space="preserve">(A/B):</text>
<text x="817.4" y="244.2" font-family='"Liberation Sans", "Noto Sans CJK SC", sans-serif' font-size="13.6" fill="#111" stroke="#111" stroke-width="0.2" font-weight="normal" text-anchor="start" textLength="26.4" lengthAdjust="spacingAndGlyphs" xml:space="preserve">G3/4</text>
<text x="849.4" y="243.0" font-family='"Liberation Sans", "Noto Sans CJK SC", sans-serif' font-size="13.6" fill="#111" stroke="#111" stroke-width="0.2" font-weight="normal" text-anchor="start" textLength="3.9" lengthAdjust="spacingAndGlyphs" xml:space="preserve">(</text>
<text x="1121.75" y="244.29999999999998" transform="scale(0.77,1)" text-anchor="middle" font-family='"Liberation Serif", "Noto Serif CJK SC", serif' font-size="12.7" font-weight="700" fill="#111" stroke="#111" stroke-width="0">深</text>
<text x="870.65" y="244.2" font-family='"Liberation Sans", "Noto Sans CJK SC", sans-serif' font-size="13.6" fill="#111" stroke="#111" stroke-width="0.2" font-weight="normal" text-anchor="start" textLength="13.9" lengthAdjust="spacingAndGlyphs" xml:space="preserve">18</text>
<text x="888.15" y="243.0" font-family='"Liberation Sans", "Noto Sans CJK SC", sans-serif' font-size="13.6" fill="#111" stroke="#111" stroke-width="0.2" font-weight="normal" text-anchor="start" textLength="4.65" lengthAdjust="spacingAndGlyphs" xml:space="preserve">)</text>
<text x="1031.22 1049.19 1067.03" y="267.1" transform="scale(0.74,1)" text-anchor="middle" font-family='"Liberation Serif", "Noto Serif CJK SC", serif' font-size="13.2" font-weight="700" fill="#111" stroke="#111" stroke-width="0">泄油口</text>
<text x="796.4" y="267.0" font-family='"Liberation Sans", "Noto Sans CJK SC", sans-serif' font-size="13.6" fill="#111" stroke="#111" stroke-width="0.2" font-weight="normal" text-anchor="start" textLength="17.4" lengthAdjust="spacingAndGlyphs" xml:space="preserve">(T):</text>
<text x="818.9" y="267.0" font-family='"Liberation Sans", "Noto Sans CJK SC", sans-serif' font-size="13.6" fill="#111" stroke="#111" stroke-width="0.2" font-weight="normal" text-anchor="start" textLength="26.4" lengthAdjust="spacingAndGlyphs" xml:space="preserve">G1/4</text>
<text x="1031.22 1049.19" y="297.1" transform="scale(0.74,1)" text-anchor="middle" font-family='"Liberation Serif", "Noto Serif CJK SC", serif' font-size="13.2" font-weight="700" fill="#111" stroke="#111" stroke-width="0">油口</text>
<text x="783.15" y="297.0" font-family='"Liberation Sans", "Noto Sans CJK SC", sans-serif' font-size="13.6" fill="#111" stroke="#111" stroke-width="0.2" font-weight="normal" text-anchor="start" textLength="30.65" lengthAdjust="spacingAndGlyphs" xml:space="preserve">(A/B):</text>
<text x="817.4" y="297.0" font-family='"Liberation Sans", "Noto Sans CJK SC", sans-serif' font-size="13.6" fill="#111" stroke="#111" stroke-width="0.2" font-weight="normal" text-anchor="start" textLength="38.9" lengthAdjust="spacingAndGlyphs" xml:space="preserve">M27X2</text>
<text x="859.4" y="297.0" font-family='"Liberation Sans", "Noto Sans CJK SC", sans-serif' font-size="13.6" fill="#111" stroke="#111" stroke-width="0.2" font-weight="normal" text-anchor="start" textLength="41.4" lengthAdjust="spacingAndGlyphs" xml:space="preserve">O-ring(</text>
<text x="1176.95" y="297.1" transform="scale(0.77,1)" text-anchor="middle" font-family='"Liberation Serif", "Noto Serif CJK SC", serif' font-size="12.7" font-weight="700" fill="#111" stroke="#111" stroke-width="0">深</text>
<text x="911.9" y="297.0" font-family='"Liberation Sans", "Noto Sans CJK SC", sans-serif' font-size="13.6" fill="#111" stroke="#111" stroke-width="0.2" font-weight="normal" text-anchor="start" textLength="18.9" lengthAdjust="spacingAndGlyphs" xml:space="preserve">18)</text>
<text x="1031.22 1049.19 1067.03" y="319.6" transform="scale(0.74,1)" text-anchor="middle" font-family='"Liberation Serif", "Noto Serif CJK SC", serif' font-size="13.2" font-weight="700" fill="#111" stroke="#111" stroke-width="0">泄油口</text>
<text x="796.4" y="319.5" font-family='"Liberation Sans", "Noto Sans CJK SC", sans-serif' font-size="13.6" fill="#111" stroke="#111" stroke-width="0.2" font-weight="normal" text-anchor="start" textLength="17.4" lengthAdjust="spacingAndGlyphs" xml:space="preserve">(T):</text>
<text x="818.9" y="319.5" font-family='"Liberation Sans", "Noto Sans CJK SC", sans-serif' font-size="13.6" fill="#111" stroke="#111" stroke-width="0.2" font-weight="normal" text-anchor="start" textLength="26.4" lengthAdjust="spacingAndGlyphs" xml:space="preserve">G1/4</text>
<text x="1031.22 1049.19" y="352.40000000000003" transform="scale(0.74,1)" text-anchor="middle" font-family='"Liberation Serif", "Noto Serif CJK SC", serif' font-size="13.2" font-weight="700" fill="#111" stroke="#111" stroke-width="0">油口</text>
<text x="783.15" y="352.3" font-family='"Liberation Sans", "Noto Sans CJK SC", sans-serif' font-size="13.6" fill="#111" stroke="#111" stroke-width="0.2" font-weight="normal" text-anchor="start" textLength="30.65" lengthAdjust="spacingAndGlyphs" xml:space="preserve">(A/B):</text>
<text x="818.9" y="352.3" font-family='"Liberation Sans", "Noto Sans CJK SC", sans-serif' font-size="13.6" fill="#111" stroke="#111" stroke-width="0.2" font-weight="normal" text-anchor="start" textLength="79.4" lengthAdjust="spacingAndGlyphs" xml:space="preserve">1-1/16-12UNF</text>
<text x="904.4" y="352.3" font-family='"Liberation Sans", "Noto Sans CJK SC", sans-serif' font-size="13.6" fill="#111" stroke="#111" stroke-width="0.2" font-weight="normal" text-anchor="start" textLength="41.4" lengthAdjust="spacingAndGlyphs" xml:space="preserve">O-ring(</text>
<text x="1235.39" y="352.40000000000003" transform="scale(0.77,1)" text-anchor="middle" font-family='"Liberation Serif", "Noto Serif CJK SC", serif' font-size="12.7" font-weight="700" fill="#111" stroke="#111" stroke-width="0">深</text>
<text x="956.9" y="352.3" font-family='"Liberation Sans", "Noto Sans CJK SC", sans-serif' font-size="13.6" fill="#111" stroke="#111" stroke-width="0.2" font-weight="normal" text-anchor="start" textLength="19.65" lengthAdjust="spacingAndGlyphs" xml:space="preserve">20)</text>
<text x="1031.22 1049.19 1067.03" y="374.90000000000003" transform="scale(0.74,1)" text-anchor="middle" font-family='"Liberation Serif", "Noto Serif CJK SC", serif' font-size="13.2" font-weight="700" fill="#111" stroke="#111" stroke-width="0">泄油口</text>
<text x="796.4" y="374.8" font-family='"Liberation Sans", "Noto Sans CJK SC", sans-serif' font-size="13.6" fill="#111" stroke="#111" stroke-width="0.2" font-weight="normal" text-anchor="start" textLength="17.4" lengthAdjust="spacingAndGlyphs" xml:space="preserve">(T):</text>
<text x="818.9" y="374.8" font-family='"Liberation Sans", "Noto Sans CJK SC", sans-serif' font-size="13.6" fill="#111" stroke="#111" stroke-width="0.2" font-weight="normal" text-anchor="start" textLength="67.4" lengthAdjust="spacingAndGlyphs" xml:space="preserve">7/16-20UNF</text>
<text x="889.4" y="374.8" font-family='"Liberation Sans", "Noto Sans CJK SC", sans-serif' font-size="13.6" fill="#111" stroke="#111" stroke-width="0.2" font-weight="normal" text-anchor="start" textLength="45.15" lengthAdjust="spacingAndGlyphs" xml:space="preserve">,O-ring(</text>
<text x="1220.78" y="374.90000000000003" transform="scale(0.77,1)" text-anchor="middle" font-family='"Liberation Serif", "Noto Serif CJK SC", serif' font-size="12.7" font-weight="700" fill="#111" stroke="#111" stroke-width="0">深</text>
<text x="945.65" y="374.8" font-family='"Liberation Sans", "Noto Sans CJK SC", sans-serif' font-size="13.6" fill="#111" stroke="#111" stroke-width="0.2" font-weight="normal" text-anchor="start" textLength="28.9" lengthAdjust="spacingAndGlyphs" xml:space="preserve">11.5)</text>
</svg>
</body></html>
